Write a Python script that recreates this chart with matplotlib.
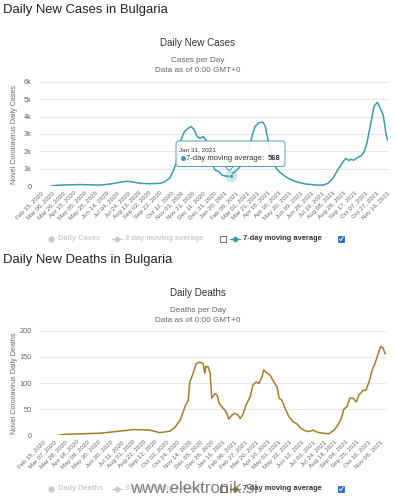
import matplotlib
matplotlib.use("Agg")
import matplotlib.pyplot as plt
import matplotlib.dates as mdates
from matplotlib.lines import Line2D
from matplotlib.patches import Rectangle, FancyBboxPatch, Polygon
import pandas as pd

plt.rcParams['font.family'] = ['Liberation Sans', 'DejaVu Sans']

# 7-day moving average of daily new cases
case_dates = ['2020-03-06', '2020-03-21', '2020-04-27', '2020-06-03', '2020-06-22',
              '2020-07-10', '2020-07-23', '2020-08-03', '2020-08-16', '2020-09-04',
              '2020-09-22', '2020-10-01', '2020-10-10', '2020-10-16', '2020-10-22',
              '2020-10-25', '2020-10-31', '2020-11-06', '2020-11-13', '2020-11-19',
              '2020-11-24', '2020-11-30', '2020-12-05', '2020-12-11', '2020-12-16',
              '2020-12-22', '2020-12-27', '2021-01-02', '2021-01-09', '2021-01-15',
              '2021-01-20', '2021-01-31', '2021-02-04', '2021-02-12', '2021-02-17',
              '2021-03-02', '2021-03-08', '2021-03-13', '2021-03-17', '2021-03-24',
              '2021-04-01', '2021-04-05', '2021-04-10', '2021-04-18', '2021-04-25',
              '2021-05-04', '2021-05-17', '2021-06-01', '2021-06-19', '2021-07-08',
              '2021-07-21', '2021-07-30', '2021-08-08', '2021-08-17', '2021-08-27',
              '2021-09-01', '2021-09-07', '2021-09-10', '2021-09-16', '2021-09-23',
              '2021-09-29', '2021-10-05', '2021-10-10', '2021-10-14', '2021-10-19',
              '2021-10-23', '2021-10-29', '2021-11-01', '2021-11-05', '2021-11-09',
              '2021-11-12', '2021-11-14', '2021-11-17']
case_avg = [30, 70, 100, 70, 130,
            230, 290, 250, 170, 150,
            170, 260, 460, 840, 1320,
            1900, 2660, 3130, 3330, 3420,
            3270, 2850, 2750, 2850, 2660,
            1900, 1320, 940, 840, 650,
            590, 568, 750, 940, 1120,
            1700, 2470, 3040, 3420, 3650,
            3670, 3420, 2660, 1700, 1030,
            750, 460, 260, 130, 70,
            70, 170, 460, 940, 1410,
            1600, 1470, 1550, 1500, 1660,
            1740, 1990, 2470, 3130, 3900,
            4570, 4820, 4660, 4380, 4090,
            3520, 3040, 2660]

# 7-day moving average of daily deaths
death_dates = ['2020-03-15', '2020-03-31', '2020-06-01', '2020-07-27', '2020-08-05',
               '2020-09-02', '2020-09-21', '2020-10-10', '2020-10-19', '2020-10-29',
               '2020-11-07', '2020-11-13', '2020-11-16', '2020-11-22', '2020-11-28',
               '2020-12-05', '2020-12-11', '2020-12-14', '2020-12-16', '2020-12-20',
               '2020-12-24', '2020-12-27', '2021-01-02', '2021-01-06', '2021-01-10',
               '2021-01-17', '2021-01-23', '2021-01-28', '2021-02-03', '2021-02-08',
               '2021-02-14', '2021-02-18', '2021-02-23', '2021-03-01', '2021-03-09',
               '2021-03-14', '2021-03-20', '2021-03-25', '2021-03-31', '2021-04-03',
               '2021-04-07', '2021-04-15', '2021-04-22', '2021-04-28', '2021-05-02',
               '2021-05-07', '2021-05-13', '2021-05-20', '2021-05-28', '2021-06-04',
               '2021-06-12', '2021-06-19', '2021-06-27', '2021-07-04', '2021-07-12',
               '2021-07-23', '2021-08-03', '2021-08-13', '2021-08-20', '2021-08-26',
               '2021-08-31', '2021-09-06', '2021-09-11', '2021-09-17', '2021-09-23',
               '2021-09-28', '2021-10-06', '2021-10-11', '2021-10-17', '2021-10-23',
               '2021-10-28', '2021-11-03', '2021-11-08', '2021-11-12', '2021-11-16']
death_avg = [0, 2, 4, 10, 11,
             10, 5, 8, 15, 29,
             55, 67, 102, 118, 137,
             140, 137, 119, 132, 131,
             119, 71, 80, 77, 61,
             52, 45, 31, 39, 42,
             39, 32, 39, 58, 74,
             96, 102, 99, 112, 125,
             121, 115, 102, 93, 71,
             67, 52, 36, 26, 22,
             13, 9, 7, 10, 6,
             4, 3, 10, 20, 32,
             50, 55, 71, 71, 64,
             77, 86, 86, 102, 125,
             137, 156, 170, 167, 156]

case_yticks = [0, 1000, 2000, 3000, 4000, 5000, 6000]
case_ytick_labels = ['0', '1k', '2k', '3k', '4k', '5k', '6k']
death_yticks = [0, 50, 100, 150, 200]
death_ytick_labels = ['0', '50', '100', '150', '200']

tooltip_date = '2021-01-31'
tooltip_value = 568

CASE_COLOR = '#3a9bb2'
DEATH_COLOR = '#a97b27'
W, H = 396, 500

fig = plt.figure(figsize=(W / 100, H / 100), dpi=100)


def fx(x):
    return x / W


def fy(y):
    return 1 - y / H


def text(x, y, s, **kw):
    fig.text(fx(x), fy(y), s, **kw)


def draw_chart(box, dates, values, color, yticks, ylabels, tick_step, n_ticks, xpad, ylabel):
    x0, y0, x1, y1 = box
    ax = fig.add_axes([fx(x0), fy(y1), fx(x1) - fx(x0), fy(y0) - fy(y1)])
    base = pd.Timestamp('2020-02-15')
    xs = mdates.date2num(pd.to_datetime(dates))
    ax.plot(xs, values, color=color, lw=1.1, solid_joinstyle='round', zorder=3)

    ax.set_ylim(yticks[0], yticks[-1])
    ax.set_xlim(mdates.date2num(base - pd.Timedelta(days=xpad[0])),
                mdates.date2num(base + pd.Timedelta(days=xpad[1])))
    ax.set_yticks(yticks)
    ax.set_yticklabels(ylabels, fontsize=5.3, color='#666666')
    ticks = pd.date_range(base, periods=n_ticks, freq=f'{tick_step}D')
    ax.set_xticks(mdates.date2num(ticks))
    ax.set_xticklabels([t.strftime('%b %d, %Y') for t in ticks], rotation=45,
                       ha='right', va='top', rotation_mode='anchor',
                       fontsize=4.5, color='#666666')
    ax.tick_params(axis='y', length=0, pad=6)
    ax.tick_params(axis='x', length=0, pad=3)
    ax.yaxis.grid(True, color='#e6e6e6', lw=0.75)
    ax.set_axisbelow(True)
    for s in ax.spines.values():
        s.set_visible(False)
    ax.axhline(yticks[0], color='#ccd6eb', lw=0.8, zorder=2)
    text(15, (y0 + y1) / 2, ylabel, rotation=90, ha='center', va='center',
         fontsize=5.1, color='#666666')
    return ax


def legend(y, items, color, checkbox_x):
    # hidden series (grey)
    fig.add_artist(Line2D([fx(51)], [fy(y)], marker='o', ms=3.6, color='#cccccc',
                          transform=fig.transFigure))
    text(58, y, items[0], fontsize=5.4, color='#cccccc', fontweight='bold', va='center')
    fig.add_artist(Line2D([fx(112), fx(122)], [fy(y), fy(y)], color='#cccccc', lw=0.9,
                          transform=fig.transFigure))
    fig.add_artist(Line2D([fx(117)], [fy(y)], marker='D', ms=2.6, color='#cccccc',
                          transform=fig.transFigure))
    text(125, y, items[1], fontsize=5.4, color='#cccccc', fontweight='bold', va='center')
    fig.add_artist(Rectangle((fx(220), fy(y + 3.2)), 6.4 / W, 6.4 / H, fill=False,
                             ec='#555555', lw=0.6, transform=fig.transFigure))
    # visible 7-day series
    fig.add_artist(Line2D([fx(230), fx(240)], [fy(y), fy(y)], color=color, lw=0.9,
                          transform=fig.transFigure))
    fig.add_artist(Line2D([fx(235)], [fy(y)], marker='D', ms=2.6, color=color,
                          transform=fig.transFigure))
    text(243, y, items[2], fontsize=5.4, color='#333333', fontweight='bold', va='center')
    fig.add_artist(Rectangle((fx(checkbox_x), fy(y + 3.2)), 6.4 / W, 6.4 / H,
                             fc='#1a6fd9', ec='#1a5fb8', lw=0.5,
                             transform=fig.transFigure))
    cx = checkbox_x
    fig.add_artist(Line2D([fx(cx + 1.5), fx(cx + 2.8), fx(cx + 5.0)],
                          [fy(y + 0.2), fy(y + 1.6), fy(y - 1.8)],
                          color='white', lw=0.7, transform=fig.transFigure))


# ---- cases ----
text(3, 10, 'Daily New Cases in Bulgaria', fontsize=9.4, color='#222222', va='center')
text(198, 43.5, 'Daily New Cases', fontsize=7.1, color='#333333', ha='center', va='center')
text(198, 60, 'Cases per Day', fontsize=5.9, color='#666666', ha='center', va='center')
text(198, 70, 'Data as of 0:00 GMT+0', fontsize=5.9, color='#666666', ha='center', va='center')

ax1 = draw_chart((40, 81.7, 388, 186.3), case_dates, case_avg, CASE_COLOR,
                 case_yticks, case_ytick_labels, 20, 33, (1.9, 642),
                 'Novel Coronavirus Daily Cases')

tx = mdates.date2num(pd.Timestamp(tooltip_date))
ax1.scatter([tx], [tooltip_value], s=70, color=CASE_COLOR, alpha=0.25, lw=0, zorder=4)
ax1.scatter([tx], [tooltip_value], s=10, color=CASE_COLOR, ec='white', lw=0.5, zorder=5)

fig.add_artist(FancyBboxPatch((fx(176), fy(166.5)), 109 / W, 25.5 / H,
                              boxstyle='round,pad=0,rounding_size=0.006',
                              fc='white', ec=CASE_COLOR, lw=0.7, alpha=0.9,
                              transform=fig.transFigure, zorder=10))
fig.add_artist(Polygon([(fx(225), fy(166.3)), (fx(229.3), fy(171)), (fx(233.5), fy(166.3))],
                       closed=True, fc='white', ec=CASE_COLOR, lw=0.7,
                       transform=fig.transFigure, zorder=9))
text(179, 150, 'Jan 31, 2021', fontsize=4.6, color='#333333', va='center', zorder=11)
fig.add_artist(Line2D([fx(182.8)], [fy(158.3)], marker='o', ms=2.6, color=CASE_COLOR,
                      transform=fig.transFigure, zorder=11))
text(186.5, 158.3, '7-day moving average:', fontsize=5.5, color='#333333',
     va='center', zorder=11)
text(267.5, 158.3, f'{tooltip_value}', fontsize=5.5, color='#333333',
     fontweight='bold', va='center', zorder=11)

legend(239, ['Daily Cases', '3 day moving average', '7-day moving average'],
       CASE_COLOR, 338)

# ---- deaths ----
text(3, 260, 'Daily New Deaths in Bulgaria', fontsize=9.4, color='#222222', va='center')
text(198, 293.3, 'Daily Deaths', fontsize=7.1, color='#333333', ha='center', va='center')
text(198, 310, 'Deaths per Day', fontsize=5.9, color='#666666', ha='center', va='center')
text(198, 320, 'Data as of 0:00 GMT+0', fontsize=5.9, color='#666666', ha='center', va='center')

ax2 = draw_chart((40, 330.7, 386, 435.3), death_dates, death_avg, DEATH_COLOR,
                 death_yticks, death_ytick_labels, 21, 31, (5, 641.7),
                 'Novel Coronavirus Daily Deaths')

legend(489, ['Daily Deaths', '3-day moving average', '7-day moving average'],
       DEATH_COLOR, 338)

text(194, 488.5, 'www.elektronik.si', fontsize=12, color='#6a6a6a', alpha=0.85,
     ha='center', va='center', zorder=20)

fig.savefig('out.png', dpi=100)
